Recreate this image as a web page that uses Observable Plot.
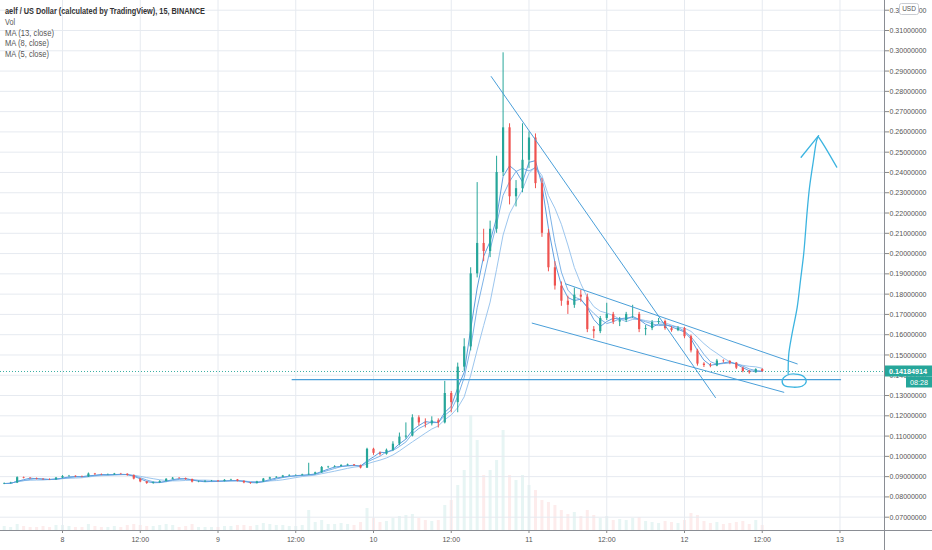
<!DOCTYPE html>
<html><head><meta charset="utf-8">
<script src="https://cdn.jsdelivr.net/npm/d3@7"></script>
<script src="https://cdn.jsdelivr.net/npm/@observablehq/plot@0.6"></script>
<style>
html,body{margin:0;padding:0;background:#fff;}
#wrap{position:relative;width:932px;height:550px;overflow:hidden;}
#wrap svg{position:absolute;left:0;top:0;}
</style></head><body>
<div id="wrap"></div>
<script>
// ---- data (hourly candles; hour offsets from day 8 00:00 UTC) ----
const firstHour = -9; // first candle = day 7 15:00
const open = [0.0864,0.0866,0.0868,0.0895,0.0892,0.0890,0.0887,0.0885,0.0884,0.0893,
0.0901,0.0902,0.0899,0.0898,0.0913,0.0910,0.0909,0.0909,0.0913,0.0912,
0.0906,0.0888,0.0874,0.0866,0.0870,0.0876,0.0887,0.0892,0.0891,0.0886,
0.0873,0.0874,0.0877,0.0878,0.0876,0.0882,0.0884,0.0877,0.0869,0.0866,
0.0874,0.0888,0.0894,0.0897,0.0903,0.0906,0.0906,0.0909,0.0912,0.0919,
0.0945,0.0947,0.0950,0.0955,0.0958,0.0955,0.0942,0.1035,0.1015,0.1010,
0.1030,0.1060,0.1095,0.1100,0.1190,0.1165,0.1160,0.1175,0.1165,0.1310,
0.1265,0.1440,0.1540,0.1900,0.2050,0.2010,0.2120,0.2400,0.2620,0.2280,
0.2320,0.2460,0.2570,0.2345,0.2100,0.1930,0.1840,0.1765,0.1745,0.1795,
0.1785,0.1625,0.1615,0.1680,0.1700,0.1662,0.1670,0.1700,0.1700,0.1625,
0.1630,0.1660,0.1665,0.1630,0.1620,0.1630,0.1590,0.1520,0.1455,0.1448,
0.1445,0.1470,0.1468,0.1460,0.1435,0.1418,0.1412,0.1428];
const high = [0.0869,0.0872,0.0899,0.0898,0.0895,0.0893,0.0890,0.0889,0.0896,0.0905,
0.0906,0.0904,0.0903,0.0918,0.0916,0.0913,0.0913,0.0916,0.0916,0.0914,
0.0908,0.0891,0.0877,0.0874,0.0880,0.0890,0.0896,0.0895,0.0893,0.0888,
0.0878,0.0880,0.0881,0.0881,0.0885,0.0887,0.0886,0.0879,0.0871,0.0877,
0.0891,0.0897,0.0900,0.0906,0.0909,0.0909,0.0912,0.0966,0.0922,0.0950,
0.0951,0.0954,0.0959,0.0962,0.0960,0.0957,0.1040,0.1040,0.1022,0.1036,
0.1072,0.1115,0.1165,0.1205,0.1200,0.1185,0.1195,0.1185,0.1370,0.1320,
0.1460,0.1580,0.1930,0.2350,0.2120,0.2160,0.2480,0.2990,0.2640,0.2360,
0.2640,0.2600,0.2590,0.2370,0.2120,0.1960,0.1860,0.1790,0.1830,0.1820,
0.1800,0.1640,0.1690,0.1755,0.1710,0.1685,0.1710,0.1745,0.1710,0.1645,
0.1670,0.1680,0.1672,0.1640,0.1640,0.1636,0.1598,0.1528,0.1462,0.1458,
0.1478,0.1476,0.1472,0.1463,0.1440,0.1424,0.1432,0.1432];
const low = [0.0861,0.0863,0.0866,0.0889,0.0887,0.0884,0.0882,0.0881,0.0882,0.0890,
0.0897,0.0895,0.0895,0.0896,0.0906,0.0905,0.0905,0.0906,0.0908,0.0902,
0.0884,0.0870,0.0862,0.0863,0.0867,0.0873,0.0884,0.0887,0.0882,0.0869,
0.0870,0.0871,0.0874,0.0872,0.0874,0.0879,0.0874,0.0865,0.0862,0.0864,
0.0872,0.0885,0.0891,0.0894,0.0900,0.0902,0.0903,0.0906,0.0909,0.0916,
0.0940,0.0943,0.0947,0.0951,0.0950,0.0938,0.0940,0.1005,0.1002,0.1006,
0.1025,0.1052,0.1085,0.1096,0.1150,0.1140,0.1150,0.1140,0.1160,0.1215,
0.1215,0.1420,0.1520,0.1880,0.1960,0.1980,0.2100,0.2380,0.2240,0.2230,
0.2300,0.2420,0.2320,0.2080,0.1910,0.1820,0.1740,0.1700,0.1730,0.1760,
0.1610,0.1580,0.1605,0.1670,0.1650,0.1640,0.1660,0.1680,0.1610,0.1595,
0.1620,0.1650,0.1622,0.1612,0.1615,0.1580,0.1510,0.1445,0.1438,0.1437,
0.1442,0.1460,0.1452,0.1428,0.1412,0.1405,0.1410,0.1415];
const close = [0.0866,0.0868,0.0895,0.0892,0.0890,0.0887,0.0885,0.0884,0.0893,0.0901,
0.0902,0.0899,0.0898,0.0913,0.0910,0.0909,0.0909,0.0913,0.0912,0.0906,
0.0888,0.0874,0.0866,0.0870,0.0876,0.0887,0.0892,0.0891,0.0886,0.0873,
0.0874,0.0877,0.0878,0.0876,0.0882,0.0884,0.0877,0.0869,0.0866,0.0874,
0.0888,0.0894,0.0897,0.0903,0.0906,0.0906,0.0909,0.0912,0.0919,0.0945,
0.0947,0.0950,0.0955,0.0958,0.0955,0.0942,0.1035,0.1015,0.1010,0.1030,
0.1060,0.1095,0.1100,0.1190,0.1165,0.1160,0.1175,0.1165,0.1310,0.1265,
0.1440,0.1540,0.1900,0.2050,0.2010,0.2120,0.2400,0.2620,0.2280,0.2320,
0.2460,0.2570,0.2345,0.2100,0.1930,0.1840,0.1765,0.1745,0.1795,0.1785,
0.1625,0.1615,0.1680,0.1700,0.1662,0.1670,0.1700,0.1700,0.1625,0.1630,
0.1660,0.1665,0.1630,0.1620,0.1630,0.1590,0.1520,0.1455,0.1448,0.1445,
0.1470,0.1468,0.1460,0.1435,0.1418,0.1412,0.1428,0.14184914];
const volume = [4,3,6,4,3,3,4,3,5,5, 4,3,3,6,4,3,3,4,3,5, 6,5,4,4,5,6,5,3,4,6,
3,3,3,3,4,4,5,5,4,5, 7,6,5,5,4,4,5,20,8,10, 6,6,7,6,5,8,22,12,8,9,
12,14,15,16,12,10,9,10,25,30, 45,60,115,90,55,60,70,100,55,50,
55,45,40,30,28,25,20,16,18,14, 20,15,12,14,10,11,10,12,13,9,
8,7,9,8,7,10,17,15,9,7, 8,6,7,8,9,6,10,5];
// MA windows in hourly candles: same time spans (and lags) as the reference's MA(13/8/5) lines
const maWindows = [7, 4, 3];
const lastPrice = 0.14184914;
const lastPriceLabel = "0.14184914";
const countdownLabel = "08:28";
const legendLines = ["aelf / US Dollar (calculated by TradingView), 15, BINANCE", "Vol", "MA (13, close)", "MA (8, close)", "MA (5, close)"];

// axis ticks / labels
const yTicks = [0.07,0.08,0.09,0.10,0.11,0.12,0.13,0.14,0.15,0.16,0.17,0.18,0.19,0.20,0.21,0.22,0.23,0.24,0.25,0.26,0.27,0.28,0.29,0.30,0.31,0.32];
const xTickHours = [0,12,24,36,48,60,72,84,96,108,120];
const xTickLabels = ["8","12:00","9","12:00","10","12:00","11","12:00","12","12:00","13"];
const xDomainHours = [-9.57, 126.87];
const yDomain = [0.06344, 0.3248];

// drawings (hour offset, price)
const trendPeak = [[66.17,0.2873],[100.78,0.1290]];
const channelTop = [[77.63,0.1851],[113.4,0.1456]];
const channelBottom = [[72.49,0.1657],[111.33,0.1316]];
const supportLine = [[35.45,0.1378],[120.08,0.1378]];
const circlePts = [[114.79,0.1369],[114.2,0.1347],[112.8,0.1341],[111.4,0.1349],[111.08,0.1374],[111.74,0.1399],[113.1,0.1406],[114.4,0.1394]];
const arrowShaft = [[112.0,0.1407],[112.1,0.1506],[112.6,0.1604],[113.4,0.1736],[113.9,0.1867],[114.4,0.1999],[114.7,0.2114],[114.9,0.2196],[115.3,0.2327],[115.9,0.2459],[116.4,0.2558],[116.7,0.2582]];
const arrowLeft = [[114.0,0.2475],[116.6,0.2578]];
const arrowRight = [[116.7,0.2574],[117.6,0.2530],[119.5,0.2426]];

// ---- build ----
const base = Date.UTC(2019, 5, 8, 0, 0);
const hd = h => new Date(base + h * 3600e3);
const rows = close.map((c, i) => ({t: hd(firstHour + i), o: open[i], h: high[i], l: low[i], c, v: volume[i], up: c >= open[i]}));
const pts = arr => arr.map(([h, p]) => ({t: hd(h), p}));
const xTicks = xTickHours.map(hd);
const xDomain = xDomainHours.map(hd);
const UP = "#26a69a", DOWN = "#ef5350";
const FONT = '"Liberation Sans", Arial, sans-serif';
const DRAW = "#4a9fd9", HAND = "#3cb4e0";
const MA_COLORS = ["#9cc6ee", "#7db3e8", "#5f9fe0"];

const common = {width: 932, height: 550, marginLeft: 0, marginRight: 48, marginTop: 0, marginBottom: 20};

const volPlot = Plot.plot({
  ...common,
  style: {background: "transparent"},
  x: {type: "utc", domain: xDomain, axis: null},
  y: {domain: [0, 530], axis: null},
  marks: [
    Plot.ruleX(rows, {x: "t", y1: 0, y2: "v", stroke: d => d.up ? UP : DOWN, strokeOpacity: 0.11, strokeWidth: 3})
  ]
});

const lbl = d => { const i = xTicks.findIndex(x => +x === +d); return i >= 0 ? xTickLabels[i] : ""; };

const chart = Plot.plot({
  ...common,
  style: {background: "transparent", fontFamily: FONT, fontSize: "8px", color: "#555", overflow: "visible"},
  x: {type: "utc", domain: xDomain, label: null},
  y: {domain: yDomain, label: null},
  marks: [
    Plot.gridY(yTicks, {stroke: "#e6eaf0", strokeOpacity: 1}),
    Plot.gridX(xTicks, {stroke: "#e6eaf0", strokeOpacity: 1}),
    Plot.axisY(yTicks, {anchor: "right", label: null, tickFormat: d3.format(".8f"), tickSize: 4, tickPadding: 1, stroke: "#888", fill: "#555"}),
    Plot.axisX(xTicks, {anchor: "bottom", label: null, tickFormat: lbl, tickSize: 3, tickPadding: 3, stroke: "#888", fill: "#555"}),
    Plot.ruleY([lastPrice], {stroke: UP, strokeDasharray: "1,2", strokeWidth: 1, strokeOpacity: 0.9}),
    // moving averages of close
    ...maWindows.map((k, j) => Plot.lineY(rows, Plot.windowY({k, anchor: "end"}, {x: "t", y: "c", stroke: MA_COLORS[j], strokeWidth: 1}))),
    // candles
    Plot.ruleX(rows, {x: "t", y1: "l", y2: "h", stroke: d => d.up ? UP : DOWN, strokeWidth: 1}),
    Plot.ruleX(rows, {x: "t", y1: "o", y2: "c", stroke: d => d.up ? UP : DOWN, strokeWidth: 2.2}),
    // drawings
    Plot.line(pts(trendPeak), {x: "t", y: "p", stroke: DRAW, strokeWidth: 1}),
    Plot.line(pts(channelTop), {x: "t", y: "p", stroke: DRAW, strokeWidth: 1}),
    Plot.line(pts(channelBottom), {x: "t", y: "p", stroke: DRAW, strokeWidth: 1}),
    Plot.line(pts(supportLine), {x: "t", y: "p", stroke: DRAW, strokeWidth: 1.3}),
    Plot.line(pts(circlePts), {x: "t", y: "p", stroke: HAND, strokeWidth: 1.3, curve: "catmull-rom-closed"}),
    Plot.line(pts(arrowShaft), {x: "t", y: "p", stroke: HAND, strokeWidth: 1.3, curve: "catmull-rom"}),
    Plot.line(pts(arrowLeft), {x: "t", y: "p", stroke: HAND, strokeWidth: 1.3}),
    Plot.line(pts(arrowRight), {x: "t", y: "p", stroke: HAND, strokeWidth: 1.3, curve: "catmull-rom"})
  ]
});

const wrap = document.getElementById("wrap");
wrap.appendChild(volPlot);
wrap.appendChild(chart);

const svg = d3.select(chart);
// narrow the texts the way the reference's type is set
function squeeze(sel, f) {
  sel.each(function() {
    const w = this.getComputedTextLength();
    this.setAttribute("textLength", (w * f).toFixed(1));
    this.setAttribute("lengthAdjust", "spacingAndGlyphs");
  });
}
svg.selectAll('g[aria-label="y-axis tick label"] text').attr("textLength", 37).attr("lengthAdjust", "spacingAndGlyphs");
squeeze(svg.selectAll('g[aria-label="x-axis tick label"] text'), 0.88);

// frame lines
svg.append("line").attr("x1", 884.5).attr("x2", 884.5).attr("y1", 0).attr("y2", 550).attr("stroke", "#8a8d94");
svg.append("line").attr("x1", 0).attr("x2", 932).attr("y1", 530.5).attr("y2", 530.5).attr("stroke", "#8a8d94");

// last price labels
const yPx = chart.scale("y").apply(lastPrice);
const g = svg.append("g").attr("font-family", FONT).attr("font-size", 8).attr("fill", "#fff").attr("text-anchor", "start");
g.append("rect").attr("x", 885).attr("y", yPx - 5.5).attr("width", 47).attr("height", 11).attr("fill", UP);
g.append("text").attr("x", 889).attr("y", yPx).attr("dy", "0.35em").attr("font-weight", "bold")
  .attr("textLength", 38).attr("lengthAdjust", "spacingAndGlyphs").text(lastPriceLabel);
g.append("rect").attr("x", 906).attr("y", yPx + 5.5).attr("width", 26).attr("height", 11).attr("fill", UP);
g.append("text").attr("x", 910).attr("y", yPx + 11).attr("dy", "0.35em").attr("textLength", 18).attr("lengthAdjust", "spacingAndGlyphs").text(countdownLabel);

// currency badge
const u = svg.append("g");
u.append("rect").attr("x", 899.5).attr("y", 3.5).attr("width", 19).attr("height", 11).attr("rx", 2).attr("fill", "#fff").attr("stroke", "#c9ccd2");
u.append("text").attr("x", 909).attr("y", 9).attr("dy", "0.35em").attr("text-anchor", "middle").attr("font-family", FONT).attr("font-size", 6.5).attr("fill", "#555").text("USD");

// legend
const legendWidths = [200, 10, 49, 44, 44];
const lg = svg.append("g").attr("font-family", FONT).attr("font-size", 8.5).attr("text-anchor", "start");
legendLines.forEach((s, i) => {
  lg.append("text").attr("x", 5).attr("y", 14 + i * 10.8)
    .attr("fill", i === 0 ? "#333" : "#555").attr("font-weight", i === 0 ? "bold" : "normal")
    .attr("textLength", legendWidths[i]).attr("lengthAdjust", "spacingAndGlyphs").text(s);
});
</script>
</body></html>
